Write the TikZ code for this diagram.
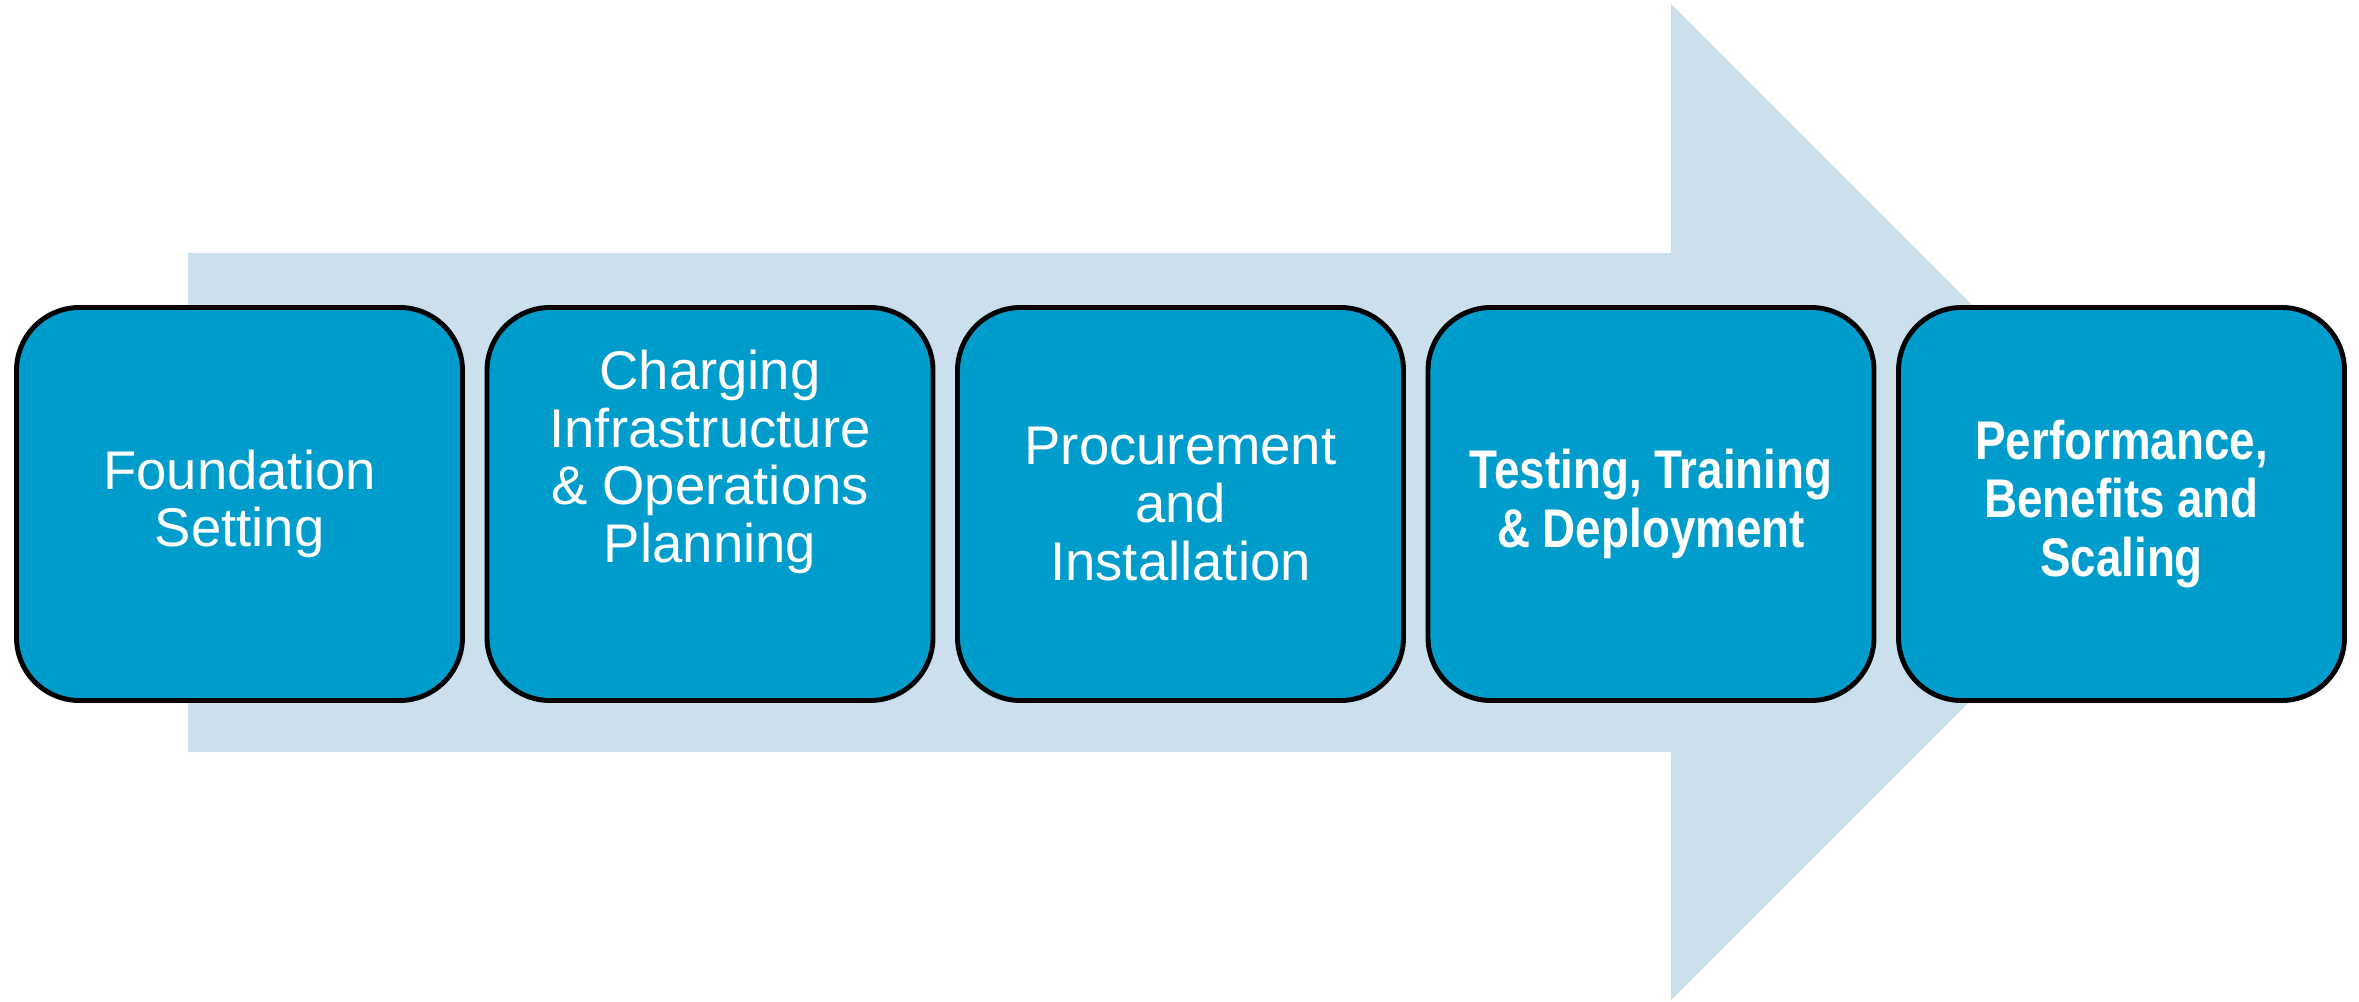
\documentclass[tikz,border=0pt]{standalone}
\usepackage{fontspec}
\setmainfont{Liberation Sans}
\newfontfamily\narrowsans{Liberation Sans}[FakeStretch=0.84]
\usepackage{tikz}
\usetikzlibrary{positioning}
\definecolor{colorStep}{RGB}{0,157,204}
\definecolor{colorFlow}{RGB}{204,223,236}
\tikzset{
   every path/.style={>=stealth},
   stepbox/.style={rectangle, rounded corners=0.63cm, fill=colorStep, draw=black, line width=1.4pt,
      minimum width=4.46cm, minimum height=3.93cm, text=white, align=center,
      font=\fontsize{15.5}{16.4}\selectfont},
   boldbox/.style={stepbox, font=\narrowsans\bfseries\fontsize{15.5}{16.6}\selectfont},
}

\begin{document}
\begin{tikzpicture}
  \useasboundingbox (0,0) rectangle (23.59,10.01);

  % big arrow behind the steps
  \fill [colorFlow] (1.88,2.49) -- (16.71,2.49) -- (16.71,0.01) -- (21.69,4.99)
     -- (16.71,9.97) -- (16.71,7.48) -- (1.88,7.48) -- cycle;

  \node [stepbox] (found) at (2.395,4.97) {Foundation\\Setting};
  \node [stepbox] (infra) at (7.10,4.97) {Charging\\Infrastructure\\\& Operations\\Planning\\[10.7pt]\mbox{}};
  \node [stepbox] (procure) at (11.805,4.97) {Procurement\\and\\Installation};
  \node [boldbox] (deploy) at (16.51,4.97) {Testing, Training\\\& Deployment};
  \node [boldbox] (scale) at (21.215,4.97) {Performance,\\Benefits and\\Scaling};
\end{tikzpicture}
\end{document}
